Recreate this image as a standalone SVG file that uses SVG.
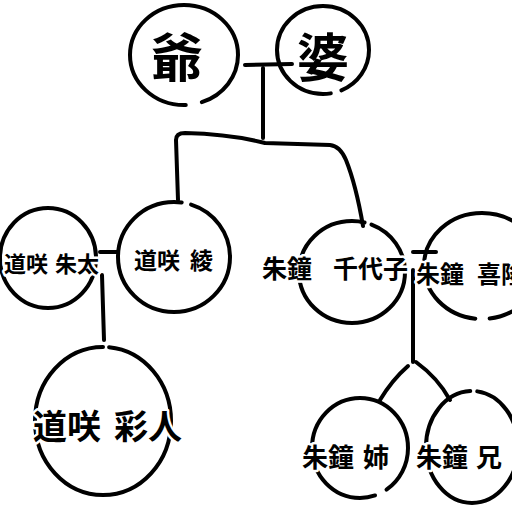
<svg xmlns="http://www.w3.org/2000/svg" width="512" height="512" viewBox="0 0 512 512">
<style>
.ln{fill:none;stroke:#000;stroke-width:4;stroke-linecap:round;stroke-linejoin:round}
.t{font-family:"Noto Sans CJK JP","Noto Sans CJK SC",sans-serif;font-weight:bold;fill:#000;stroke:#fff;stroke-width:5;stroke-linejoin:round;paint-order:stroke;dominant-baseline:central}
</style>
<rect width="512" height="512" fill="#fff"/>
<g id="connectors" class="ln">
<path d="M245 65 L292 64"/>
<path d="M263 68 L263 138"/>
<path d="M178 200 L176 140 Q176 133 185 133 Q230 134 265 143 Q300 144 330 145 Q340 146 346 160 Q356 185 363 226"/>
<path d="M100 252 L118 252"/>
<path d="M102 275 L104 340"/>
<path d="M413 252 L436 252"/>
<path d="M413 270 L413 362"/>
<path d="M408 366 Q392 380 380 400"/>
<path d="M416 362 Q438 378 450 400"/>
</g>
<g id="n-grandpa">
<ellipse class="ln" cx="184" cy="55" rx="54" ry="50" pathLength="360" stroke-dasharray="342 18" stroke-dashoffset="-88"/>
<text class="t" x="177" y="54" font-size="52" text-anchor="middle">爺</text>
</g>
<g id="n-grandma">
<ellipse class="ln" cx="323" cy="50" rx="46" ry="44" pathLength="360" stroke-dasharray="346 14" stroke-dashoffset="-80"/>
<text class="t" x="323" y="54" font-size="52" text-anchor="middle">婆</text>
</g>
<g id="n-shuta">
<ellipse class="ln" cx="48" cy="258" rx="48" ry="50"/>
<text class="t" font-size="22" y="262"><tspan x="4">道咲</tspan><tspan x="55">朱太</tspan></text>
</g>
<g id="n-aya">
<ellipse class="ln" cx="174" cy="257" rx="56" ry="55" pathLength="360" stroke-dasharray="350 10" stroke-dashoffset="-288"/>
<text class="t" font-size="23" y="259"><tspan x="134">道咲</tspan><tspan x="190">綾</tspan></text>
</g>
<g id="n-ayato">
<ellipse class="ln" cx="103" cy="421" rx="68" ry="74" pathLength="360" stroke-dasharray="355 5" stroke-dashoffset="-275"/>
<text class="t" font-size="34" y="424"><tspan x="33">道咲</tspan><tspan x="114">彩人</tspan></text>
</g>
<g id="n-chiyoko">
<ellipse class="ln" cx="352" cy="272" rx="53" ry="51" pathLength="360" stroke-dasharray="352 8" stroke-dashoffset="-292"/>
<text class="t" font-size="25" y="267"><tspan x="262">朱鐘</tspan><tspan x="333">千代子</tspan></text>
</g>
<g id="n-kiryu">
<ellipse class="ln" cx="482" cy="266" rx="58" ry="53" pathLength="360" stroke-dasharray="345 15" stroke-dashoffset="-97"/>
<text class="t" font-size="24" y="272"><tspan x="416">朱鐘</tspan><tspan x="477">喜隆</tspan></text>
</g>
<g id="n-ane">
<ellipse class="ln" cx="360" cy="448" rx="48" ry="50" pathLength="360" stroke-dasharray="345 15" stroke-dashoffset="-72"/>
<text class="t" font-size="26" y="455"><tspan x="302">朱鐘</tspan><tspan x="363">姉</tspan></text>
</g>
<g id="n-ani">
<ellipse class="ln" cx="472" cy="447" rx="46" ry="56" pathLength="360" stroke-dasharray="352 8" stroke-dashoffset="-276"/>
<text class="t" font-size="26" y="455"><tspan x="416">朱鐘</tspan><tspan x="476">兄</tspan></text>
</g>
</svg>
